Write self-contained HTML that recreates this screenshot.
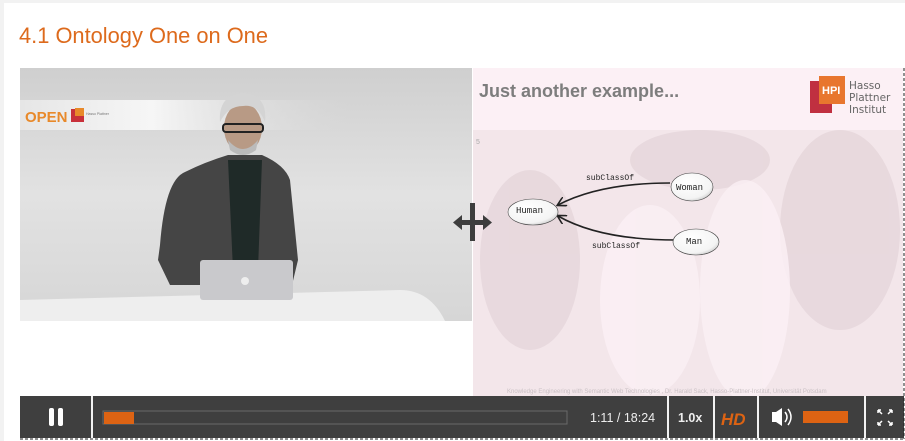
<!DOCTYPE html>
<html><head><meta charset="utf-8"><style>
html,body{margin:0;padding:0;width:905px;height:441px;overflow:hidden;background:#f2f2f2}
</style></head><body>
<svg width="905" height="441" viewBox="0 0 905 441" xmlns="http://www.w3.org/2000/svg" style="display:block">
<defs>
<linearGradient id="bg" x1="0" y1="0" x2="0" y2="1"><stop offset="0" stop-color="#cfcfcf"/><stop offset="0.5" stop-color="#e2e2e2"/><stop offset="1" stop-color="#d6d6d6"/></linearGradient>
<linearGradient id="band" x1="0" y1="0" x2="1" y2="0"><stop offset="0" stop-color="#e6e6e6"/><stop offset="0.4" stop-color="#f6f6f6"/><stop offset="1" stop-color="#dcdcdc" stop-opacity="0"/></linearGradient>
<radialGradient id="ell" cx="0.4" cy="0.35" r="0.7"><stop offset="0" stop-color="#fff"/><stop offset="0.8" stop-color="#f4f4f4"/><stop offset="1" stop-color="#ccc"/></radialGradient>
<marker id="ar" markerWidth="10" markerHeight="10" refX="8" refY="5" orient="auto" markerUnits="userSpaceOnUse"><path d="M0,0 L9,5 L0,10" fill="none" stroke="#222" stroke-width="1.6"/></marker>
</defs>
<rect x="4" y="3" width="901" height="438" fill="#fff"/>
<text x="19" y="43" font-family="Liberation Sans, sans-serif" font-size="22" fill="#dd6a1c" textLength="249" lengthAdjust="spacingAndGlyphs">4.1 Ontology One on One</text>
<!-- left video -->
<rect x="20" y="68" width="452" height="253" fill="url(#bg)"/>
<rect x="20" y="100" width="330" height="30" fill="url(#band)"/>
<path d="M20,300 L400,290 Q430,290 445,321 L20,321Z" fill="#eeeeee"/>
<text x="25" y="122" font-family="Liberation Sans, sans-serif" font-weight="bold" font-size="15" fill="#e8892a">OPEN</text>
<rect x="71" y="109" width="13" height="13" fill="#c8303a"/><rect x="75" y="108" width="9" height="8" fill="#e8892a"/>
<text x="86" y="115" font-family="Liberation Sans" font-size="3.5" fill="#777">Hasso Plattner</text>
<!-- person -->
<path d="M160,245 Q165,180 185,172 Q205,162 228,155 L262,155 Q285,165 290,180 L298,260 L292,285 L170,285 L158,260Z" fill="#454545"/>
<path d="M228,160 L262,160 L258,270 L233,270Z" fill="#1f2a28"/>
<ellipse cx="243" cy="128" rx="19" ry="25" fill="#b89a85"/>
<path d="M220,122 Q218,95 243,93 Q268,95 265,122 Q258,104 243,106 Q228,106 220,122Z" fill="#d4d4d4"/>
<rect x="223" y="124" width="40" height="8" rx="3" fill="none" stroke="#222" stroke-width="2"/>
<path d="M228,140 Q243,158 258,140 L256,150 Q243,160 230,150Z" fill="#bbb"/>
<rect x="200" y="260" width="93" height="40" rx="3" fill="#c9c9cc"/>
<circle cx="245" cy="281" r="4" fill="#eee"/>
<!-- white gap -->
<rect x="20" y="321" width="453" height="75" fill="#fff"/>
<!-- slide -->
<rect x="473" y="68" width="430" height="328" fill="#fcf0f5"/>
<rect x="473" y="130" width="430" height="266" fill="#f3e6ea"/>
<g opacity="0.25" fill="#c9b5ba">
<ellipse cx="530" cy="260" rx="50" ry="90"/><ellipse cx="840" cy="230" rx="60" ry="100"/><ellipse cx="700" cy="160" rx="70" ry="30"/>
</g>
<g fill="#fbf0f5" opacity="0.8"><ellipse cx="650" cy="300" rx="50" ry="95"/><ellipse cx="745" cy="290" rx="45" ry="110"/></g>
<rect x="473" y="68" width="430" height="62" fill="#fcf0f5"/>
<text x="479" y="97" font-family="Liberation Sans, sans-serif" font-weight="bold" font-size="18" fill="#7d7d7d">Just another example...</text>
<rect x="810" y="81" width="22" height="32" fill="#c03040"/><rect x="819" y="76" width="26" height="28" fill="#e8762e"/>
<text x="822" y="94" font-family="Liberation Sans" font-weight="bold" font-size="11" fill="#fff">HPI</text>
<text x="849" y="89" font-family="DejaVu Sans" font-size="10.5" fill="#666">Hasso</text>
<text x="849" y="101" font-family="DejaVu Sans" font-size="10.5" fill="#666">Plattner</text>
<text x="849" y="113" font-family="DejaVu Sans" font-size="10.5" fill="#666">Institut</text>
<!-- graph -->
<path d="M670,183 Q600,183 558,205" fill="none" stroke="#222" stroke-width="1.6" marker-end="url(#ar)"/>
<path d="M676,240 Q600,240 558,216" fill="none" stroke="#222" stroke-width="1.6" marker-end="url(#ar)"/>
<ellipse cx="533" cy="212" rx="25" ry="13" fill="url(#ell)" stroke="#444" stroke-width="0.6"/>
<ellipse cx="692" cy="187" rx="21" ry="14" fill="url(#ell)" stroke="#444" stroke-width="0.6"/>
<ellipse cx="696" cy="242" rx="23" ry="13" fill="url(#ell)" stroke="#444" stroke-width="0.6"/>
<g font-family="Liberation Mono, monospace" font-size="9" fill="#222">
<text x="516" y="213">Human</text><text x="676" y="190">Woman</text><text x="686" y="244">Man</text>
<text x="586" y="180" font-size="8">subClassOf</text><text x="592" y="248" font-size="8">subClassOf</text>
</g>
<text x="476" y="144" font-family="Liberation Sans" font-size="7" fill="#aaa">5</text>
<text x="507" y="393" font-family="Liberation Sans" font-size="6" fill="#c9c0c4">Knowledge Engineering with Semantic Web Technologies , Dr. Harald Sack, Hasso-Plattner-Institut, Universität Potsdam</text>
<!-- move icon -->
<g fill="#3d3d3d"><rect x="470" y="203" width="5" height="38"/><rect x="458" y="220" width="28" height="5"/><path d="M453,222.5 L462,215 L462,230Z"/><path d="M492,222.5 L483,215 L483,230Z"/></g>
<!-- controls -->
<rect x="20" y="396" width="884" height="42" fill="#3f3f3f"/>
<g fill="#f2f2f2"><rect x="91" y="396" width="2" height="42"/><rect x="667" y="396" width="2" height="42"/><rect x="713" y="396" width="2" height="42"/><rect x="757" y="396" width="2" height="42"/><rect x="864" y="396" width="2" height="42"/></g>
<rect x="49" y="408" width="5" height="18" rx="2" fill="#fff"/><rect x="58" y="408" width="5" height="18" rx="2" fill="#fff"/>
<rect x="103" y="411" width="464" height="13" fill="none" stroke="#6a6a6a" stroke-width="1"/>
<rect x="104" y="412" width="30" height="12" fill="#dd6313"/>
<text x="590" y="422" font-family="Liberation Sans" font-size="12.5" fill="#eee">1:11 / 18:24</text>
<text x="678" y="422" font-family="Liberation Sans" font-weight="bold" font-size="12.5" fill="#eee">1.0x</text>
<text x="721" y="425" font-family="Liberation Sans" font-weight="bold" font-style="italic" font-size="17" fill="#dd6313">HD</text>
<path d="M772,412 L776,412 L782,408 L782,426 L776,422 L772,422Z" fill="#fff"/>
<path d="M785,412 Q789,417 785,422 M788,409 Q794,417 788,425" stroke="#fff" stroke-width="1.5" fill="none"/>
<rect x="803" y="411" width="45" height="12" fill="#dd6313"/>
<g stroke="#fff" stroke-width="1.5" fill="none"><path d="M878,410 L882,414 M878,410 L878,413 M878,410 L881,410 M892,410 L888,414 M892,410 L892,413 M892,410 L889,410 M878,425 L882,421 M878,425 L878,422 M878,425 L881,425 M892,425 L888,421 M892,425 L892,422 M892,425 L889,425"/></g>
<!-- dashed borders -->
<line x1="904" y1="68" x2="904" y2="439" stroke="#222" stroke-width="1" stroke-dasharray="3,2"/>
<line x1="20" y1="439" x2="904" y2="439" stroke="#222" stroke-width="1" stroke-dasharray="3,2"/>
</svg>
</body></html>
